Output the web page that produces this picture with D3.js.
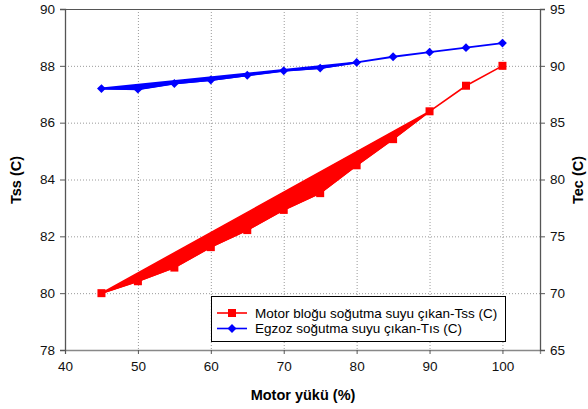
<!DOCTYPE html>
<html>
<head>
<meta charset="utf-8">
<script src="https://cdn.jsdelivr.net/npm/d3@7"></script>
<style>
  body { margin: 0; background: #fff; }
  svg { font-family: 'Liberation Sans', Arial, sans-serif; }
</style>
</head>
<body>
<svg id="chart" width="588" height="409"></svg>
<script>
// Data
const loads = [45, 50, 55, 60, 65, 70, 75, 80, 85, 90, 95, 100]
const tss = [80, 80.42, 80.9, 81.62, 82.22, 82.93, 83.52, 84.5, 85.42, 86.4, 87.3, 88]
const tec = [88, 87.95, 88.45, 88.75, 89.17, 89.57, 89.8, 90.3, 90.8, 91.2, 91.6, 92]
const xTicks = [40, 50, 60, 70, 80, 90, 100]
const leftTicks = [78, 80, 82, 84, 86, 88, 90]
const rightTicks = [65, 70, 75, 80, 85, 90, 95]
const seriesNames = ['Motor bloğu soğutma suyu çıkan-Tss (C)', 'Egzoz soğutma suyu çıkan-Tıs (C)']

const svg = d3.select('#chart')
const plotLeft = 65
const plotRight = 540
const plotTop = 9
const plotBottom = 350

const x = d3.scaleLinear().domain([40, 105.15]).range([plotLeft, plotRight])
const yL = d3.scaleLinear().domain([78, 90]).range([plotBottom, plotTop])
const yR = d3.scaleLinear().domain([65, 95]).range([plotBottom, plotTop])

// gridlines
const grid = svg.append('g')
grid.selectAll('.hg')
  .data(leftTicks.slice(1, -1))
  .enter()
  .append('line')
  .attr('x1', plotLeft).attr('x2', plotRight)
  .attr('y1', d => yL(d) + 0.5).attr('y2', d => yL(d) + 0.5)
  .attr('stroke', '#9a9a9a').attr('stroke-width', 1).attr('stroke-dasharray', '1,2')
grid.selectAll('.vg')
  .data(xTicks.slice(1))
  .enter()
  .append('line')
  .attr('x1', d => x(d) + 0.5).attr('x2', d => x(d) + 0.5)
  .attr('y1', plotTop).attr('y2', plotBottom)
  .attr('stroke', '#9a9a9a').attr('stroke-width', 1).attr('stroke-dasharray', '1,2')

// frame top
svg.append('line')
  .attr('x1', plotLeft).attr('x2', plotRight).attr('y1', plotTop + 0.5).attr('y2', plotTop + 0.5)
  .attr('stroke', '#555')

// axes
const xAxis = svg.append('g')
  .attr('transform', `translate(0,${plotBottom})`)
  .call(d3.axisBottom(x).tickValues(xTicks).tickSize(4).tickPadding(7))
const lAxis = svg.append('g')
  .attr('transform', `translate(${plotLeft},0)`)
  .call(d3.axisLeft(yL).tickValues(leftTicks).tickSize(5).tickPadding(5))
const rAxis = svg.append('g')
  .attr('transform', `translate(${plotRight},0)`)
  .call(d3.axisRight(yR).tickValues(rightTicks).tickSize(5).tickPadding(5))

;[xAxis, lAxis, rAxis].forEach(a => {
  a.select('.domain').attr('stroke', '#555').attr('stroke-width', 1.3)
  a.selectAll('.tick line').attr('stroke', '#555')
  a.selectAll('text').attr('font-size', 13.5).attr('fill', '#111')
    .attr('font-family', "'Liberation Sans', Arial, sans-serif")
})
xAxis.select('.domain').attr('stroke', '#888')

// axis titles
svg.append('text')
  .attr('x', 303).attr('y', 400)
  .attr('text-anchor', 'middle')
  .attr('font-size', 14.5).attr('font-weight', 'bold')
  .text('Motor yükü (%)')
svg.append('text')
  .attr('transform', 'translate(21,180) rotate(-90)')
  .attr('text-anchor', 'middle')
  .attr('font-size', 14.5).attr('font-weight', 'bold')
  .text('Tss (C)')
svg.append('text')
  .attr('transform', 'translate(583,180) rotate(-90)')
  .attr('text-anchor', 'middle')
  .attr('font-size', 14.5).attr('font-weight', 'bold')
  .text('Tec (C)')

// series
const redPts = loads.map((l, i) => [x(l), yL(tss[i])])
const bluePts = loads.map((l, i) => [x(l), yR(tec[i])])

// the filled slivers visible in the reference
const redIdx = loads.indexOf(90)
const blueIdx = loads.indexOf(80)
svg.append('path')
  .attr('d', d3.line()(redPts.slice(0, redIdx + 1)) + 'Z')
  .attr('fill', '#ff0000').attr('stroke', '#ff0000').attr('stroke-width', 1.5)
svg.append('path')
  .attr('d', d3.line()(bluePts.slice(0, blueIdx + 1)) + 'Z')
  .attr('fill', '#0000ff').attr('stroke', '#0000ff').attr('stroke-width', 2)

svg.append('path')
  .attr('d', d3.line()(redPts))
  .attr('fill', 'none').attr('stroke', '#ff0000').attr('stroke-width', 1.6)
svg.append('path')
  .attr('d', d3.line()(bluePts))
  .attr('fill', 'none').attr('stroke', '#0000ff').attr('stroke-width', 1.8)

svg.selectAll('.sq')
  .data(redPts)
  .enter()
  .append('rect')
  .attr('x', d => d[0] - 4).attr('y', d => d[1] - 4)
  .attr('width', 8).attr('height', 8)
  .attr('fill', '#ff0000')

const diamond = d3.symbol().type(d3.symbolDiamond2).size(50)
svg.selectAll('.dm')
  .data(bluePts)
  .enter()
  .append('path')
  .attr('transform', d => `translate(${d[0]},${d[1]})`)
  .attr('d', diamond)
  .attr('fill', '#0000ff')

// legend
const legend = svg.append('g')
legend.append('rect')
  .attr('x', 211.5).attr('y', 296.5).attr('width', 294).attr('height', 45)
  .attr('fill', '#fff').attr('stroke', '#000').attr('stroke-width', 1)
const colors = ['#ff0000', '#0000ff']
seriesNames.forEach((name, i) => {
  const ly = 313 + i * 15.5
  legend.append('line')
    .attr('x1', 217).attr('x2', 247).attr('y1', ly).attr('y2', ly)
    .attr('stroke', colors[i]).attr('stroke-width', 1.6)
  if (i === 0) {
    legend.append('rect')
      .attr('x', 228).attr('y', ly - 4).attr('width', 8).attr('height', 8)
      .attr('fill', colors[i])
  } else {
    legend.append('path')
      .attr('transform', `translate(232,${ly})`)
      .attr('d', diamond)
      .attr('fill', colors[i])
  }
  legend.append('text')
    .attr('x', 255).attr('y', ly + 4.5)
    .attr('font-size', 13.5).attr('fill', '#000')
    .text(name)
})
</script>
</body>
</html>
